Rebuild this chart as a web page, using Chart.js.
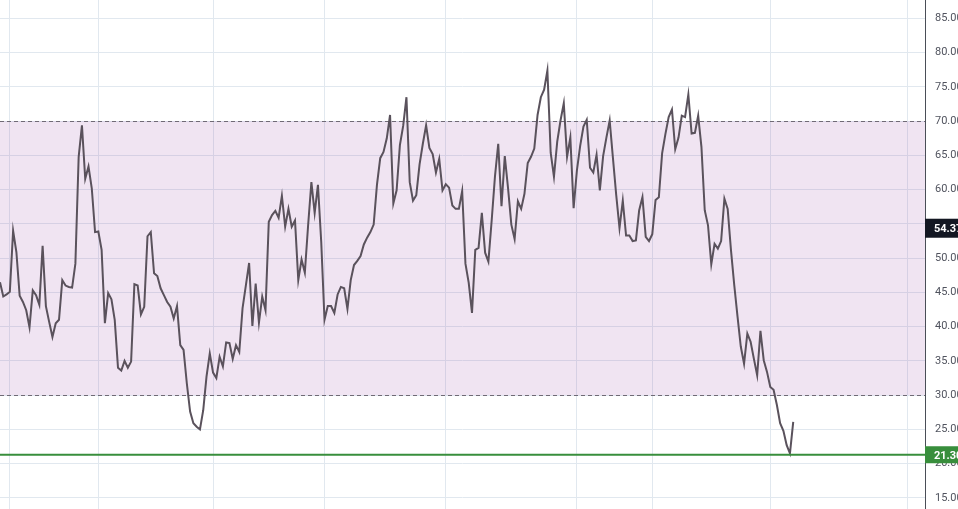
<!DOCTYPE html>
<html>
<head>
<meta charset="utf-8">
<script src="https://cdn.jsdelivr.net/npm/chart.js@4"></script>
<style>
    html, body { margin: 0; padding: 0; background: #fff; overflow: hidden; }
    canvas { display: block; }
</style>
</head>
<body>
<canvas id="rsi" width="958" height="509"></canvas>
<script>
// valeurs RSI (une par bougie)
const rsiValues = [
    46.5, 44.4, 44.7, 45.1, 54.0, 50.9, 44.5, 43.6, 42.4, 39.9,
    45.3, 44.6, 43.2, 51.8, 43.0, 40.7, 38.5, 40.5, 41.0, 46.8,
    46.0, 45.8, 45.7, 49.2, 64.8, 69.4, 61.6, 63.4, 60.2, 53.8,
    53.9, 51.2, 40.5, 44.9, 44.0, 41.0, 34.0, 33.6, 35.0, 34.0,
    34.9, 46.2, 46.0, 41.8, 42.9, 53.2, 53.8, 47.8, 47.4, 45.6,
    44.6, 43.6, 42.9, 41.2, 43.0, 37.3, 36.6, 31.7, 27.6, 25.9,
    25.4, 25.0, 27.8, 32.7, 36.1, 33.3, 32.5, 35.6, 34.2, 37.7,
    37.6, 35.3, 37.3, 36.3, 42.7, 46.0, 49.3, 40.1, 46.3, 40.6,
    44.4, 42.4, 55.3, 56.3, 56.9, 55.9, 59.1, 54.6, 57.2, 54.6,
    55.5, 46.8, 49.8, 47.9, 54.8, 61.1, 56.6, 60.7, 52.4, 41.0,
    43.0, 43.0, 42.0, 44.7, 45.8, 45.6, 42.6, 46.8, 49.0, 49.6,
    50.3, 52.0, 53.0, 53.8, 54.9, 60.7, 64.6, 65.5, 67.5, 70.9,
    58.0, 59.9, 66.5, 69.3, 73.5, 61.1, 58.4, 59.2, 63.7, 66.7,
    69.4, 66.1, 65.2, 62.5, 64.5, 59.9, 60.8, 60.3, 57.7, 57.2,
    57.2, 59.8, 49.2, 46.4, 42.0, 51.2, 51.5, 56.6, 50.8, 49.5,
    55.5, 61.9, 66.7, 57.6, 64.9, 60.2, 54.9, 52.8, 58.3, 57.2,
    59.4, 63.9, 64.8, 66.0, 70.9, 73.5, 74.6, 77.4, 65.4, 61.9,
    67.0, 70.1, 72.6, 64.8, 67.6, 57.3, 62.8, 66.4, 69.2, 70.2,
    63.2, 62.5, 65.1, 59.9, 64.9, 67.6, 70.1, 64.6, 59.2, 54.4,
    58.4, 53.3, 53.3, 52.5, 52.6, 57.0, 58.9, 53.1, 52.5, 53.5,
    58.5, 58.9, 65.3, 68.1, 70.6, 71.7, 65.9, 67.6, 70.8, 70.6,
    73.9, 68.2, 68.3, 70.8, 66.2, 57.0, 54.8, 49.1, 52.1, 51.4,
    52.5, 58.7, 57.2, 51.2, 46.1, 41.5, 37.1, 34.6, 39.0, 37.8,
    35.3, 32.9, 39.4, 35.1, 33.4, 31.2, 30.8, 28.6, 25.9, 24.8,
    22.7, 21.5, 26.1
]

// index des bougies où tombent les lignes verticales (débuts de mois)
const monthTicks = [3, 30, 65, 99, 136, 176, 199, 235, 277]
const yTicks = [15, 20, 25, 30, 35, 40, 45, 50, 55, 60, 65, 70, 75, 80, 85]

const overbought = 70
const oversold = 30
const levelLine = 21.30
const lastValue = 54.37

const gridColor = '#e1e8ef'

// pas de marge autour de la zone de tracé
const noPadding = s => {
    s.paddingTop = 0
    s.paddingBottom = 0
    s.paddingLeft = 0
    s.paddingRight = 0
}

// zone 30-70, pointillés et ligne verte
const rsiPlugin = {
    id: 'rsiBand',
    beforeDatasetsDraw(chart) {
        const { ctx, chartArea: a, scales: { y } } = chart
        const top = y.getPixelForValue(overbought)
        const bottom = y.getPixelForValue(oversold)
        ctx.save()
        ctx.fillStyle = 'rgba(155, 75, 168, 0.15)'
        ctx.fillRect(a.left, top, a.right - a.left, bottom - top)
        ctx.strokeStyle = '#6f6a75'
        ctx.lineWidth = 1
        ctx.setLineDash([4, 3])
        ;[top, bottom].forEach(py => {
            const p = Math.round(py) + 0.5
            ctx.beginPath()
            ctx.moveTo(a.left, p)
            ctx.lineTo(a.right, p)
            ctx.stroke()
        })
        ctx.restore()
    },
    afterDatasetsDraw(chart) {
        const { ctx, chartArea: a, scales: { y } } = chart
        const py = y.getPixelForValue(levelLine)
        ctx.save()
        ctx.strokeStyle = '#388e3c'
        ctx.lineWidth = 2
        ctx.beginPath()
        ctx.moveTo(a.left, py)
        ctx.lineTo(a.right, py)
        ctx.stroke()
        ctx.restore()
    },
    afterDraw(chart) {
        const { ctx, chartArea: a, scales: { y } } = chart
        const box = (value, bg, h) => {
            const py = y.getPixelForValue(value)
            ctx.fillStyle = bg
            ctx.fillRect(a.right, py - h / 2, chart.width - a.right, h)
            ctx.fillStyle = '#ffffff'
            ctx.font = 'bold 11px Roboto'
            ctx.textAlign = 'left'
            ctx.textBaseline = 'middle'
            ctx.fillText(value.toFixed(2), a.right + 9, py + 1)
        }
        ctx.save()
        box(lastValue, '#131722', 19)
        box(levelLine, '#388e3c', 17)
        ctx.restore()
    }
}

new Chart(document.getElementById('rsi'), {
    type: 'line',
    data: {
        datasets: [{
            data: rsiValues.map((v, i) => ({ x: i, y: v })),
            borderColor: '#5a525c',
            borderWidth: 2,
            pointRadius: 0,
            tension: 0,
            fill: false
        }]
    },
    options: {
        responsive: false,
        animation: false,
        layout: { padding: 0, autoPadding: false },
        plugins: { legend: { display: false }, tooltip: { enabled: false } },
        scales: {
            x: {
                type: 'linear',
                min: 0,
                max: 282.2,
                afterBuildTicks: s => { s.ticks = monthTicks.map(v => ({ value: v })) },
                afterFit: s => { s.height = 0; noPadding(s) },
                grid: { color: gridColor, drawTicks: false },
                border: { display: false },
                ticks: { display: false }
            },
            y: {
                position: 'right',
                min: 13.38,
                max: 87.69,
                afterBuildTicks: s => { s.ticks = yTicks.map(v => ({ value: v })) },
                afterFit: s => { s.width = 33; noPadding(s) },
                grid: { color: gridColor, drawTicks: false },
                border: { display: true, color: '#4a4e57', width: 1 },
                ticks: {
                    padding: 10,
                    color: '#50535e',
                    font: { family: 'Roboto', size: 11 },
                    callback: v => v.toFixed(2)
                }
            }
        }
    },
    plugins: [rsiPlugin]
})
</script>
</body>
</html>
